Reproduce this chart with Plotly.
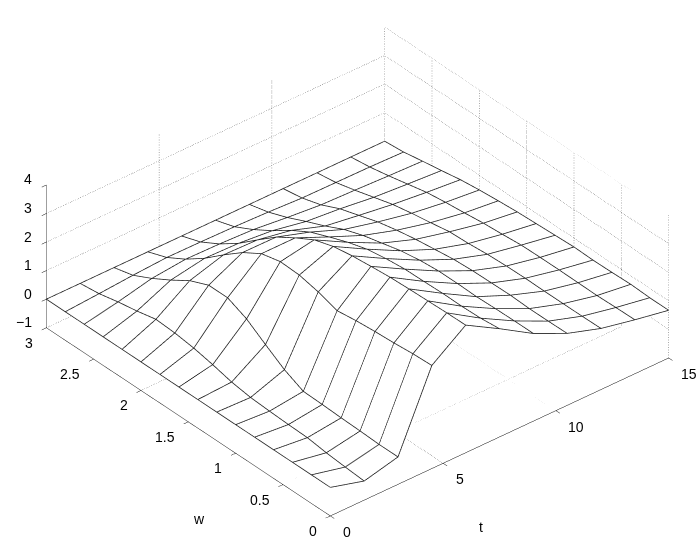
import plotly.graph_objects as go

t_values = [0, 1.5, 3, 4.5, 6, 7.5, 9, 10.5, 12, 13.5, 15]
w_values = [0, 0.2, 0.4, 0.6, 0.8, 1.0, 1.2, 1.4, 1.6, 1.8, 2.0, 2.2, 2.4, 2.6, 2.8, 3.0]

# one list per t value, each running over w_values
z_t00 = [0]*16
z_t01 = [-0.33,-0.28,-0.22,-0.13,-0.11,-0.08,-0.04,0.06,0.23,0.37,0.46,0.50,0.35,0.23,0.08,0]
z_t02 = [-0.04,-0.04,-0.01,0.01,0.04,0.06,0.38,0.82,1.28,1.58,1.58,1.30,0.88,0.50,0.17,0]
z_t03 = [2.61,2.58,2.52,2.48,2.42,2.33,2.55,2.70,2.73,2.57,2.17,1.65,1.09,0.62,0.24,0]
z_t04 = [3.47,3.46,3.44,3.42,3.39,3.33,3.26,3.15,2.94,2.57,2.16,1.62,1.06,0.60,0.23,0]
z_t05 = [2.79,2.72,2.70,2.71,2.69,2.68,2.61,2.50,2.30,2.05,1.78,1.40,0.95,0.55,0.21,0]
z_t06 = [2.07,2.07,2.06,2.04,2.06,2.06,2.00,1.89,1.72,1.55,1.32,1.00,0.72,0.42,0.17,0]
z_t07 = [1.52,1.51,1.51,1.54,1.53,1.52,1.48,1.39,1.30,1.18,1.03,0.82,0.61,0.31,0.11,0]
z_t08 = [1.14,1.13,1.13,1.13,1.14,1.13,1.10,1.04,1.01,0.89,0.78,0.65,0.46,0.27,0.10,0]
z_t09 = [0.89,0.88,0.86,0.87,0.88,0.88,0.87,0.81,0.76,0.68,0.61,0.52,0.37,0.22,0.09,0]
z_t10 = [0.67,0.67,0.70,0.68,0.67,0.69,0.66,0.63,0.60,0.55,0.49,0.41,0.29,0.18,0.06,0]

z_by_t = [z_t00,z_t01,z_t02,z_t03,z_t04,z_t05,z_t06,z_t07,z_t08,z_t09,z_t10]

t_ticks = [0, 5, 10, 15]
w_ticks = [0, 0.5, 1, 1.5, 2, 2.5, 3]
z_ticks = [-1, 0, 1, 2, 3, 4]
t_labels = ["0", "5", "10", "15"]
w_labels = ["0", "0.5", "1", "1.5", "2", "2.5", "3"]
z_labels = ["\u22121", "0", "1", "2", "3", "4"]

T0, T1, W0, W1, Z0, Z1 = 0, 15, 0, 3, -1, 4

fig = go.Figure()

# white sheet hiding what lies behind the mesh
z_matrix = [[z_by_t[i][j] - 0.015 for i in range(len(t_values))] for j in range(len(w_values))]
fig.add_trace(go.Surface(x=t_values, y=w_values, z=z_matrix,
                         colorscale=[[0, "white"], [1, "white"]], showscale=False,
                         lighting=dict(ambient=1, diffuse=0, specular=0, fresnel=0, roughness=1),
                         hoverinfo="skip"))

def line(xs, ys, zs, color, width, dash="solid"):
    fig.add_trace(go.Scatter3d(x=xs, y=ys, z=zs, mode="lines",
                               line=dict(color=color, width=width, dash=dash),
                               hoverinfo="skip", showlegend=False))

# mesh lines
for i, t in enumerate(t_values):
    line([t]*len(w_values), w_values, z_by_t[i], "#222222", 1.6)
for j, w in enumerate(w_values):
    line(t_values, [w]*len(t_values), [r[j] for r in z_by_t], "#222222", 1.6)

# dotted grid on floor and back walls
G = "#555555"
for t in t_ticks[1:]:
    line([t, t], [W0, W1], [Z0, Z0], G, 1, "dot")
    line([t, t], [W1, W1], [Z0, Z1], G, 1, "dot")
for w in w_ticks[1:]:
    line([T0, T1], [w, w], [Z0, Z0], G, 1, "dot")
for w in w_ticks:
    line([T1, T1], [w, w], [Z0, Z1], G, 1, "dot")
for z in z_ticks:
    line([T0, T1], [W1, W1], [z, z], G, 1, "dot")
    line([T1, T1], [W0, W1], [z, z], G, 1, "dot")

R = 1.5
SIN_EL, COS_EL = 0.557, 0.830
ex, ey, ez = -0.643*COS_EL*R, -0.766*COS_EL*R, SIN_EL*R
axis = dict(showgrid=False, zeroline=False, showbackground=False, showspikes=False,
            showline=True, linecolor="black", linewidth=1, ticks="outside", ticklen=6,
            tickcolor="black", tickwidth=1, tickmode="array", showticklabels=False)

LF = dict(family="Liberation Sans", size=14, color="black")
labels = []
for v, s in zip(t_ticks, t_labels):
    labels.append(dict(x=v, y=W0, z=Z0, text=s, showarrow=False, font=LF,
                       xanchor="left", yanchor="middle", xshift=10.5, yshift=-16))
for v, s in zip(w_ticks, w_labels):
    labels.append(dict(x=T0, y=v, z=Z0, text=s, showarrow=False, font=LF,
                       xanchor="right", yanchor="middle", xshift=-11.5, yshift=-15))
for v, s in zip(z_ticks, z_labels):
    labels.append(dict(x=T0, y=W1, z=v, text=s, showarrow=False, font=LF,
                       xanchor="right", yanchor="middle", xshift=-12, yshift=5.5))

S = 1.63
fig.update_layout(
    width=699, height=542, margin=dict(l=0, r=0, t=0, b=0),
    paper_bgcolor="white", showlegend=False,
    font=LF,
    scene=dict(
        domain=dict(x=[0.0229, 1], y=[0, 1]),
        xaxis=dict(axis, range=[T0, T1], tickvals=t_ticks, title=dict(text="")),
        yaxis=dict(axis, range=[W0, W1], tickvals=w_ticks, title=dict(text="")),
        zaxis=dict(axis, range=[Z0, Z1], tickvals=z_ticks, title=dict(text="")),
        aspectmode="manual", aspectratio=dict(x=S, y=S, z=0.389*S),
        camera=dict(eye=dict(x=ex, y=ey, z=ez), center=dict(x=0, y=0, z=0.002),
                    up=dict(x=0, y=0, z=1), projection=dict(type="orthographic")),
        annotations=labels,
    ),
    annotations=[
        dict(text="t", x=481/699, y=1-527/542, xref="paper", yref="paper", showarrow=False,
             xanchor="center", yanchor="middle", font=LF),
        dict(text="w", x=199/699, y=1-519/542, xref="paper", yref="paper", showarrow=False,
             xanchor="center", yanchor="middle", font=LF),
    ],
)
fig.write_html("out.html", post_script="document.body.style.margin='0';",
               config={"displayModeBar": False})
